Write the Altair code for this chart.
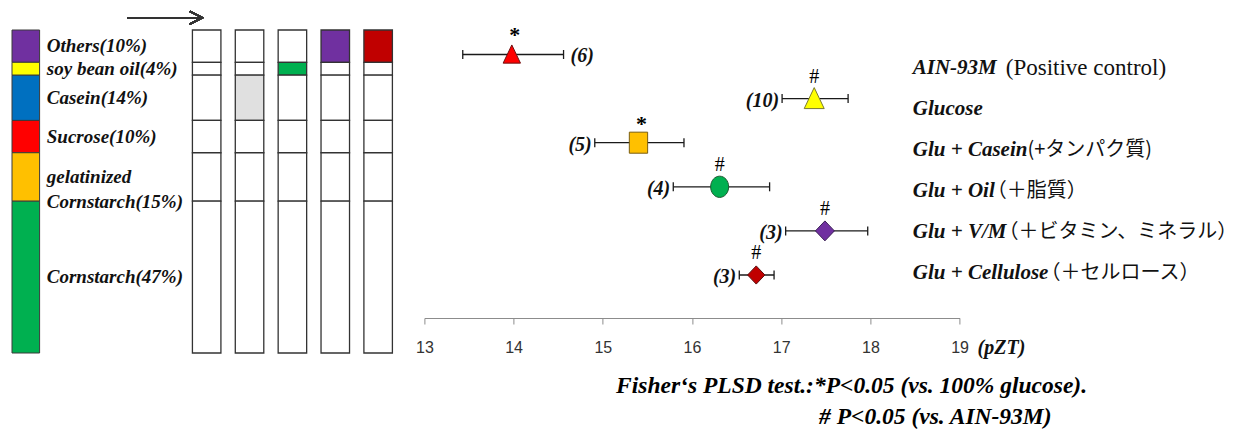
import altair as alt
import pandas as pd

# ---------------- data ----------------
components = ["Others", "soy bean oil", "Casein", "Sucrose",
              "gelatinized Cornstarch", "Cornstarch"]
component_pct = [10, 4, 14, 10, 15, 47]
component_labels = ["Others(10%)", "soy bean oil(4%)", "Casein(14%)",
                    "Sucrose(10%)", "gelatinized\nCornstarch(15%)", "Cornstarch(47%)"]

diet_ids = [1, 2, 3, 4, 5]
diet_marked = {2: "Casein", 3: "soy bean oil", 4: "Others", 5: "Others"}

groups = ["AIN-93M", "Glucose", "Glu + Casein", "Glu + Oil", "Glu + V/M", "Glu + Cellulose"]
group_notes = ["(Positive control)", "", "(+タンパク質)", "（＋脂質）",
               "（＋ビタミン、ミネラル）", "（＋セルロース）"]
pzt_mean = [13.98, 17.37, 15.40, 16.31, 17.49, 16.72]
pzt_low = [13.43, 17.01, 14.91, 15.79, 17.05, 16.53]
pzt_high = [14.56, 17.75, 15.91, 16.87, 17.97, 16.92]
n_animals = [6, 10, 5, 4, 3, 3]
signif = ["*", "#", "*", "#", "#", "#"]
x_ticks = [13, 14, 15, 16, 17, 18, 19]
axis_unit = ["(pZT)"]
footnote_1 = ["Fisher‘s PLSD test.:*P<0.05  (vs. 100% glucose)."]
footnote_2 = ["# P<0.05 (vs. AIN-93M)"]

# ---------------- styles ----------------
SERIF = "Liberation Serif"
JP = "Noto Sans CJK JP"
INK = "#111111"
component_colors = ["#7030A0", "#FFFF00", "#0070C0", "#FF0000", "#FFC000", "#00B050"]
diet_mark_colors = {2: "#E0E0E0", 3: "#00B050", 4: "#7030A0", 5: "#C00000"}
TRI = "M0,-1.1L1,1L-1,1Z"
SQR = "M-1,-1.15L1,-1.15L1,1.15L-1,1.15Z"
ELL = "M0,-1.18A1,1.18 0 1,1 0,1.18A1,1.18 0 1,1 0,-1.18Z"
DIA = "M0,-1.05L1,0L0,1.05L-1,0Z"
marker_shape = [TRI, TRI, SQR, ELL, DIA, DIA]
marker_fill = ["#FF0000", "#FFFF00", "#FFC000", "#00B050", "#7030A0", "#C00000"]
marker_stroke = ["#6E1010", "#7A7A30", "#7A5E10", "#1E5A32", "#3A1F55", "#5A1010"]
marker_size = [300, 400, 335, 324, 361, 300]

SPACING = 20.7
DIET_STEP = 44.16
DIET_GAP = 142.5 - SPACING          # extra room left of the first diet bar
LEG_W, FOREST_W = 27.6, 535.2
DIET_W = 5 * DIET_STEP + DIET_GAP
BAR_H, FOREST_H = 323, 288
LABEL_X = 18.475
LABEL_FS = 21
JP_FS = 20

BI_W = {"A": 667, "I": 389, "N": 722, "-": 333, "9": 500, "3": 500, "M": 889,
        "G": 722, "l": 278, "u": 556, "c": 444, "o": 500, "s": 389, "e": 444,
        " ": 250, "+": 570, "C": 667, "a": 500, "i": 278, "n": 556, "O": 722,
        "V": 667, "/": 278}


def bi_width(s, size):
    return sum(BI_W.get(ch, 500) for ch in s) * size / 1000.0


# ---------------- composition tables ----------------
bottom_up = list(zip(components, component_pct))[::-1]
seg = {}
acc = 0
for comp, p in bottom_up:
    seg[comp] = (acc, acc + p)
    acc += p

leg_df = pd.DataFrame({
    "col": ["legend"] * len(components),
    "component": components,
    "lo": [seg[c][0] for c in components],
    "hi": [seg[c][1] for c in components],
    "label": component_labels,
})
leg_df["mid"] = (leg_df["lo"] + leg_df["hi"]) / 2

diet_rows = []
for d in diet_ids:
    for c in components:
        diet_rows.append({
            "diet": d, "component": c, "lo": seg[c][0], "hi": seg[c][1],
            "fill": diet_mark_colors[d] if diet_marked.get(d) == c else "#FFFFFF",
        })
diet_df = pd.DataFrame(diet_rows)

pct_scale = alt.Scale(domain=[0, 100], nice=False, zero=False)

legend_bars = alt.Chart(leg_df).mark_rect(stroke="#3a3a3a", strokeWidth=1).encode(
    x=alt.X("col:N", axis=None, scale=alt.Scale(paddingInner=0, paddingOuter=0)),
    y=alt.Y("lo:Q", axis=None, scale=pct_scale),
    y2="hi:Q",
    color=alt.Color("component:N", scale=alt.Scale(domain=components, range=component_colors), legend=None),
)
legend_text = alt.Chart(leg_df).mark_text(
    align="left", baseline="middle", dx=21, font=SERIF, fontSize=19,
    fontStyle="italic", fontWeight="bold", color=INK, lineBreak="\n", lineHeight=25,
).encode(
    x=alt.X("col:N", axis=None, scale=alt.Scale(paddingInner=0, paddingOuter=0)),
    y=alt.Y("mid:Q", axis=None, scale=pct_scale),
    text="label:N",
)
legend_chart = alt.layer(legend_bars, legend_text).properties(width=LEG_W, height=BAR_H)

diet_x = alt.Scale(domain=[0.5 - DIET_GAP / DIET_STEP - 0.03, 5.47], nice=False, zero=False)
diet_bars = alt.Chart(diet_df).mark_bar(size=28.5, stroke="#333333", strokeWidth=1.3, orient="vertical").encode(
    x=alt.X("diet:Q", axis=None, scale=diet_x),
    y=alt.Y("lo:Q", axis=None, scale=pct_scale),
    y2="hi:Q",
    fill=alt.Fill("fill:N", scale=None),
)
arrow_line = alt.Chart(diet_df).mark_rule(color="#333333", strokeWidth=1.4).encode(
    x=alt.datum(-0.85), x2=alt.datum(0.90), y=alt.datum(103.8)
)
arrow_head = alt.Chart(diet_df).mark_point(
    shape="M-2,-1L0,0L-2,1", size=159, filled=False, color="#333333", strokeWidth=1.4, opacity=1
).encode(x=alt.datum(0.90), y=alt.datum(103.8))
diet_chart = alt.layer(diet_bars, arrow_line, arrow_head).properties(width=DIET_W, height=BAR_H)

# ---------------- forest plot ----------------
px_per_unit = FOREST_W / (x_ticks[-1] - x_ticks[0])
fdf = pd.DataFrame({
    "group": groups, "note": group_notes, "mean": pzt_mean, "lo": pzt_low,
    "hi": pzt_high, "n": n_animals, "sig": signif,
})
fdf["row"] = range(len(groups))
fdf["ntext"] = ["(%d)" % v for v in n_animals]
fdf["shape"] = marker_shape
fdf["fill"] = marker_fill
fdf["stroke"] = marker_stroke
fdf["size"] = marker_size
gaps = []
for note in group_notes:
    if note.startswith("（"):
        gaps.append(-8)
    elif note.isascii():
        gaps.append(9)
    else:
        gaps.append(0)
fdf["note_x"] = [LABEL_X + (bi_width(g, LABEL_FS) + gp) / px_per_unit for g, gp in zip(groups, gaps)]
fdf["latin"] = [n.isascii() for n in group_notes]

X = alt.Scale(domain=[x_ticks[0], x_ticks[-1]], nice=False, zero=False)
xaxis = alt.Axis(values=x_ticks, format="d", title=None, grid=False,
                 domainColor="#8c8c8c", tickColor="#8c8c8c", tickSize=6,
                 domainWidth=1, tickWidth=1, labelFlush=False,
                 labelFont="Liberation Sans", labelFontSize=16, labelColor="#333333",
                 labelPadding=15)
Yrow = alt.Scale(domain=[-0.555, 5.975], reverse=True, nice=False, zero=False)
Ylab = alt.Scale(domain=[-0.93, 6.11], reverse=True, nice=False, zero=False)


def xq(f):
    return alt.X(f, scale=X, axis=xaxis)


def yq(f):
    return alt.Y(f, scale=Yrow, axis=None)


base = alt.Chart(fdf)
err = base.mark_rule(color="#1a1a1a", strokeWidth=1.3).encode(x=xq("lo:Q"), x2="hi:Q", y=yq("row:Q"))
caps = base.transform_fold(["lo", "hi"], as_=["end", "v"]).mark_point(
    shape="M0,-1L0,1", size=81, filled=False, color="#1a1a1a", strokeWidth=1.3, opacity=1
).encode(x=xq("v:Q"), y=yq("row:Q"))
pts = base.mark_point(filled=True, opacity=1, strokeWidth=1).encode(
    x=xq("mean:Q"), y=yq("row:Q"),
    shape=alt.Shape("shape:N", scale=None),
    fill=alt.Fill("fill:N", scale=None),
    stroke=alt.Stroke("stroke:N", scale=None),
    size=alt.Size("size:Q", scale=None),
)
nbold = dict(font=SERIF, fontSize=20, fontStyle="italic", fontWeight="bold", color=INK)
n_left = base.transform_filter(alt.datum.group != "AIN-93M").mark_text(
    align="right", baseline="middle", dx=-3, dy=2, **nbold).encode(x=xq("lo:Q"), y=yq("row:Q"), text="ntext:N")
n_right = base.transform_filter(alt.datum.group == "AIN-93M").mark_text(
    align="left", baseline="middle", dx=7, dy=2, **nbold).encode(x=xq("hi:Q"), y=yq("row:Q"), text="ntext:N")
stars = base.transform_filter(alt.datum.sig == "*").mark_text(
    font=SERIF, fontSize=22, fontWeight="bold", color="#000000", baseline="middle", dx=3, dy=-19
).encode(x=xq("mean:Q"), y=yq("row:Q"), text="sig:N")
hashes = base.transform_filter(alt.datum.sig == "#").mark_text(
    font=SERIF, fontSize=20, color="#000000", baseline="middle", dy=-22
).encode(x=xq("mean:Q"), y=yq("row:Q"), text="sig:N")

labels = base.mark_text(align="left", baseline="middle", font=SERIF, fontSize=LABEL_FS,
                        fontStyle="italic", fontWeight="bold", color=INK).encode(
    x=alt.datum(LABEL_X), y=alt.Y("row:Q", scale=Ylab, axis=None), text="group:N")
notes_latin = base.transform_filter(alt.datum.latin & (alt.datum.note != "")).mark_text(
    align="left", baseline="middle", font=SERIF, fontSize=23, color=INK).encode(
    x=xq("note_x:Q"), y=alt.Y("row:Q", scale=Ylab, axis=None), text="note:N")
notes_jp = base.transform_filter(~alt.datum.latin).mark_text(
    align="left", baseline="middle", font=JP, fontSize=JP_FS, color=INK).encode(
    x=xq("note_x:Q"), y=alt.Y("row:Q", scale=Ylab, axis=None), text="note:N")

unit_txt = alt.Chart(pd.DataFrame({"t": axis_unit})).mark_text(
    align="left", baseline="middle", dx=18, **nbold
).encode(x=alt.datum(x_ticks[-1]), y=alt.value(FOREST_H + 30), text="t:N")
foot_style = dict(align="left", baseline="middle", font=SERIF, fontSize=23.5, fontStyle="italic",
                  fontWeight="bold", color="#000000")
foot1 = alt.Chart(pd.DataFrame({"t": footnote_1})).mark_text(**foot_style).encode(
    x=alt.value(191.7), y=alt.value(356), text="t:N")
foot2 = alt.Chart(pd.DataFrame({"t": footnote_2})).mark_text(**foot_style).encode(
    x=alt.value(394.7), y=alt.value(387), text="t:N")

forest_chart = alt.layer(
    err, caps, pts, n_left, n_right, stars, hashes, labels, notes_latin, notes_jp,
    unit_txt, foot1, foot2
).resolve_scale(y="independent").properties(width=FOREST_W, height=FOREST_H)

chart = alt.hconcat(legend_chart, diet_chart, forest_chart, spacing=SPACING, bounds="flush").properties(
    padding={"left": 3, "top": 0, "right": 0, "bottom": 0}
).configure_view(stroke=None)

chart.save("out.html", embed_options={"renderer": "svg", "actions": False})
